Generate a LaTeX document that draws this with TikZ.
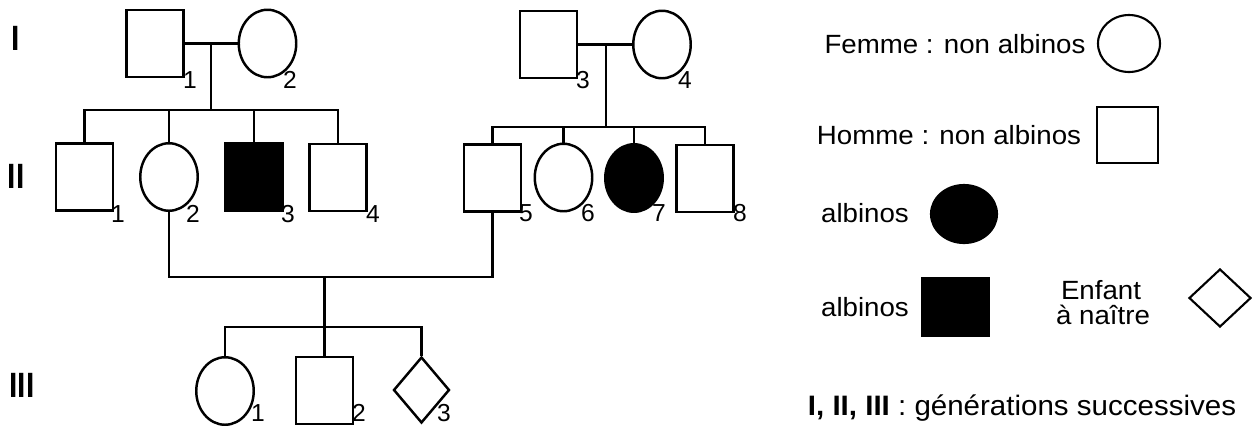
\documentclass[tikz,border=0pt]{standalone}
\usepackage{fontspec}
\setmainfont{Liberation Sans}
\usetikzlibrary{shapes.geometric}
\begin{document}
\begin{tikzpicture}[x=0.02cm, y=-0.02cm, line width=1.4pt,
  male/.style={draw, rectangle, inner sep=0pt, minimum width=1.14cm, minimum height=1.34cm},
  female/.style={draw, ellipse, inner sep=0pt, minimum width=1.15cm, minimum height=1.35cm},
  aff/.style={fill=black},
  num/.style={font=\fontsize{14}{14}\selectfont, inner sep=0pt},
  gen/.style={font=\fontsize{20}{20}\selectfont\bfseries, xscale=0.85, inner sep=0pt},
  leg/.style={font=\fontsize{15}{15}\selectfont, xscale=1.05, inner sep=0pt},
  wh/.style 2 args={draw, line width=1.2pt, inner sep=0pt, minimum width=#1*0.02cm, minimum height=#2*0.02cm}]
\fill[white] (0,0) rectangle (1252,427);
\useasboundingbox (0,0) rectangle (1252,427);

% generation labels
\node[gen] (gI) at (16,38) {I};
\node[gen] (gII) at (16,176) {II};
\node[gen] (gIII) at (22,385) {III};

% generation I
\node[male] (I1) at (155,43.5) {};
\node[female] (I2) at (267.5,43.5) {};
\node[male] (I3) at (548.5,44.5) {};
\node[female] (I4) at (662,44.5) {};

% generation II
\node[male] (II1) at (84.5,177) {};
\node[female] (II2) at (169,177) {};
\node[male, aff] (II3) at (254,177) {};
\node[male] (II4) at (338,177.5) {};
\node[male] (II5) at (492.5,178) {};
\node[female] (II6) at (563.5,177.5) {};
\node[female, aff] (II7) at (634,178) {};
\node[male] (II8) at (705,178.5) {};

% generation III
\node[female] (III1) at (225,391) {};
\node[male] (III2) at (324.5,390.5) {};
\node[draw, diamond, inner sep=0pt, minimum width=1.12cm, minimum height=1.32cm] (III3) at (421.5,390) {};

% numbers
\node[num] (nI1) at (190,80) {1};
\node[num] (nI2) at (290,80) {2};
\node[num] (nI3) at (583,80) {3};
\node[num] (nI4) at (685,80) {4};
\node[num] (nII1) at (118,214) {1};
\node[num] (nII2) at (193,214) {2};
\node[num] (nII3) at (288,214) {3};
\node[num] (nII4) at (373,214) {4};
\node[num] (nII5) at (526,213) {5};
\node[num] (nII6) at (588,213) {6};
\node[num] (nII7) at (659,213) {7};
\node[num] (nII8) at (740,213) {8};
\node[num] (nIII1) at (258,413) {1};
\node[num] (nIII2) at (359,413) {2};
\node[num] (nIII3) at (444,413) {3};

% left family
\coordinate (u1) at (211,43.5);
\coordinate (s1) at (211,110);
\draw (I1.east) -- (I2.west);
\draw (u1) -- (s1);
\draw (II1.north) -- (II1.north |- s1) -- (II4.north |- s1) -- (II4.north);
\draw (II2.north) -- (II2.north |- s1);
\draw (II3.north) -- (II3.north |- s1);

% right family
\coordinate (u2) at (606,44.5);
\coordinate (s2) at (606,127);
\draw (I3.east) -- (I4.west);
\draw (u2) -- (s2);
\draw (II5.north) -- (II5.north |- s2) -- (II8.north |- s2) -- (II8.north);
\draw (II6.north) -- (II6.north |- s2);
\draw (II7.north) -- (II7.north |- s2);

% couple II2 - II5
\coordinate (u3) at (324.5,277);
\coordinate (s3) at (324.5,327);
\draw (II2.south) -- (II2.south |- u3) -- (II5.south |- u3) -- (II5.south);
\draw (u3) -- (s3);
\draw (III1.north) -- (III1.north |- s3) -- (III3.north |- s3) -- (III3.north);
\draw (III2.north) -- (III2.north |- s3);

% legend
\node[leg] (tF) at (955,44) {Femme : non albinos};
\node[wh={62}{57}, ellipse] (lF) at (1129,43.5) {};
\node[leg] (tH) at (949,135) {Homme : non albinos};
\node[wh={61}{56}, rectangle] (lH) at (1127.5,135) {};
\node[leg] (tA1) at (865,213) {albinos};
\node[wh={66}{58}, ellipse, fill=black] (lA1) at (964,214) {};
\node[leg] (tA2) at (865,307) {albinos};
\node[wh={67}{58}, rectangle, fill=black] (lA2) at (955.5,307) {};
\node[leg] (tE1) at (1101,290) {Enfant};
\node[leg] (tE2) at (1103,315) {à naître};
\node[wh={62}{58}, diamond] (lE) at (1220,298) {};
\node[leg, font=\fontsize{16}{16}\selectfont] (tG) at (1022,408) {\textbf{I, II, III} : générations successives};
\end{tikzpicture}
\end{document}
